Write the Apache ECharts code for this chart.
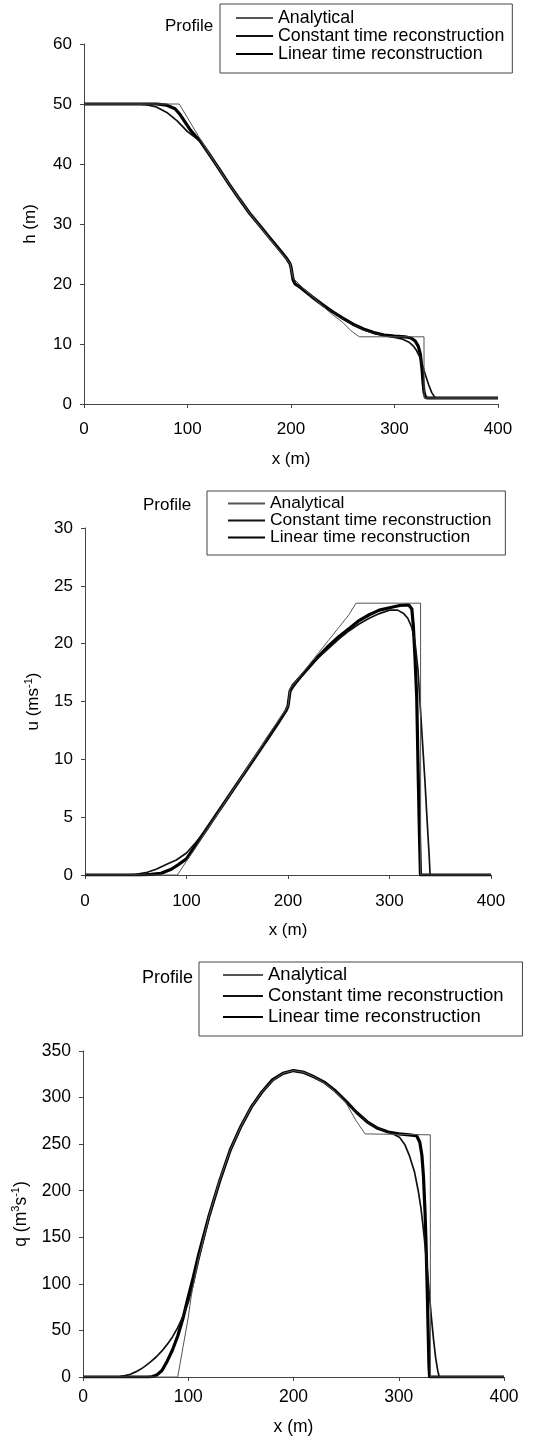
<!DOCTYPE html>
<html>
<head>
<meta charset="utf-8">
<script src="https://cdn.jsdelivr.net/npm/echarts@6/dist/echarts.min.js"></script>
<style>html,body{margin:0;padding:0;background:#fff}#c{width:549px;height:1447px}</style>
</head>
<body>
<div id="c"></div>
<script>
// ---- data (x in m) ----
const seriesNames = ['Analytical', 'Constant time reconstruction', 'Linear time reconstruction'];
const xRange = [0, 400, 100];
const hRange = [0, 60, 10];
const uRange = [0, 30, 5];
const qRange = [0, 350, 50];

const hAnalytical = [[0,50],[92,50],[100,47.7],[110,44.8],[120,42.0],[130,39.3],[140,36.7],[150,34.2],[160,31.8],[170,29.6],[180,27.4],[190,25.3],[199,23.4],[202,21.0],[210,19.6],[220,18.0],[230,16.4],[240,14.9],[250,13.6],[258,12.2],[266,11.2],[328.5,11.2],[328.6,1],[400,1]];
const hConstant = [[0,50],[50,50],[60,49.9],[70,49.5],[80,48.6],[90,47.2],[100,45.4],[106,44.6],[112,43.8],[120,41.8],[130,39.2],[140,36.7],[150,34.2],[160,31.8],[170,29.7],[180,27.6],[190,25.5],[196,24.2],[199,23.3],[201,21.6],[204,20.2],[210,19.4],[220,18.0],[230,16.7],[240,15.4],[250,14.2],[260,13.2],[270,12.4],[280,11.8],[290,11.4],[300,11.1],[308,10.8],[314,10.3],[318,9.7],[321,9.0],[324,8.0],[327,6.5],[330,4.8],[333,3.2],[336,1.9],[339,1.1],[342,1.0],[400,1.0]];
const hLinear = [[0,50],[70,50],[80,49.8],[88,49.2],[93,48.2],[98,46.9],[103,45.6],[108,44.6],[112,43.9],[120,41.9],[130,39.3],[140,36.7],[150,34.2],[160,31.8],[170,29.7],[180,27.6],[190,25.5],[196,24.2],[199,23.4],[200,22.8],[202,20.7],[204,20.0],[210,19.3],[220,17.9],[230,16.6],[240,15.4],[250,14.3],[260,13.3],[270,12.5],[280,11.9],[290,11.5],[300,11.3],[310,11.2],[316,11.0],[320,10.5],[323,9.6],[325,8.3],[326.5,6.0],[327.5,3.8],[328.5,2.0],[330,1.1],[332,1.0],[400,1.0]];

const uAnalytical = [[0,0],[91,0],[100,1.2],[110,2.5],[120,3.9],[130,5.2],[140,6.6],[150,7.9],[160,9.3],[170,10.6],[180,12.0],[190,13.3],[200,14.6],[202,16.1],[210,17.0],[220,18.1],[230,19.2],[240,20.3],[250,21.4],[260,22.5],[267,23.5],[330.6,23.5],[330.7,0],[400,0]];
const uConstant = [[0,0],[40,0],[50,0.05],[60,0.2],[70,0.5],[80,0.9],[90,1.3],[100,1.9],[110,2.9],[120,4.0],[130,5.3],[140,6.6],[150,7.9],[160,9.2],[170,10.5],[180,11.8],[190,13.1],[198,14.2],[200,14.7],[202,15.8],[205,16.2],[210,16.8],[220,17.9],[230,18.8],[240,19.6],[250,20.4],[260,21.1],[270,21.7],[280,22.2],[290,22.6],[300,22.9],[308,22.9],[314,22.6],[318,22.2],[322,21.4],[325,20.2],[328,17.8],[331,13.6],[333,10.8],[335,8.0],[337,4.8],[339,1.8],[340,0],[400,0]];
const uLinear = [[0,0],[55,0],[65,0.05],[75,0.15],[85,0.5],[92,0.9],[100,1.4],[110,2.7],[120,4.0],[130,5.3],[140,6.6],[150,7.9],[160,9.2],[170,10.5],[180,11.8],[190,13.1],[198,14.2],[200,14.6],[202,15.9],[205,16.4],[210,16.9],[220,17.9],[230,18.9],[240,19.8],[250,20.6],[260,21.3],[270,22.0],[280,22.5],[290,22.9],[300,23.1],[310,23.3],[319,23.35],[322,23.0],[323.5,21.5],[325,19.0],[326.8,15.4],[328.4,8.2],[329.5,3.5],[330.5,0],[400,0]];

const qAnalytical = [[0,0],[90,0],[95,32],[100,64],[103,88],[110,128],[120,174],[130,212],[140,244],[150,269],[160,290],[170,306],[180,318],[190,326],[200,329],[210,327],[220,322],[230,315],[240,306],[250,294],[259,276],[268,261],[330,260],[330.1,0],[400,0]];
const qConstant = [[0,0],[30,0],[35,0.5],[40,1.5],[45,3],[50,5.5],[55,8.5],[60,12.5],[65,17],[70,22],[75,28],[80,35],[85,43],[90,53],[95,65],[100,80],[105,101],[110,126],[120,172],[130,210],[140,243],[150,268],[160,290],[170,306],[180,318],[190,326],[200,329],[210,327],[220,322],[230,316],[240,307],[250,296],[260,284],[270,274],[280,267],[290,263],[296,260],[301,257],[306,249],[310,238],[315,220],[318.5,200],[321,182],[323,163],[325,141],[327,117],[329,90],[331,64],[333,41],[335,21],[337,7],[338.5,0],[400,0]];
const qLinear = [[0,0],[62,0],[66,0.5],[70,2],[75,7],[80,17],[85,29],[90,44],[95,63],[100,86],[105,108],[110,132],[120,174],[130,211],[140,244],[150,269],[160,290],[170,306],[180,319],[190,326],[200,329],[210,327],[220,322],[230,316],[240,307],[250,296],[260,284],[270,274],[280,267],[290,263],[300,261],[310,260],[317,259],[320,252],[322,238],[323.5,215],[325,176],[326,140],[327,96],[328,46],[328.7,12],[329.3,0],[400,0]];

// ---- styling / layout ----
const FONT = 'Liberation Sans, Arial, sans-serif';
const styles = [
  {color: '#555', width: 1},
  {color: '#111', width: 1.7},
  {color: '#000', width: 3.2}
];
const panels = [
  {grid: {left: 84, top: 44, width: 414, height: 360}, y: hRange, yName: 'h (m)', yGap: 44, xGap: 47, xMargin: 17, fs: 17,
   data: [hAnalytical, hConstant, hLinear],
   legend: {left: 220, top: 4, padding: [5, 8, 10, 15], lh: 17, iw: 37, fs: 17.8},
   title: {left: 165, top: 17.5, fs: 17}},
  {grid: {left: 85, top: 528, width: 406, height: 347}, y: uRange, yName: 'u (ms{sup|-1})', yGap: 40, xGap: 47, xMargin: 18, fs: 17,
   data: [uAnalytical, uConstant, uLinear],
   legend: {left: 207, top: 491, padding: [4, 14, 9, 20], lh: 16, iw: 37, fs: 17.4},
   title: {left: 143, top: 496.5, fs: 17}},
  {grid: {left: 83, top: 1051, width: 421, height: 326}, y: qRange, yName: 'q (m{sup|3}s{sup|-1})', yGap: 52, xGap: 41, xMargin: 11, fs: 17.5,
   data: [qAnalytical, qConstant, qLinear],
   legend: {left: 199, top: 962, padding: [2.5, 19, 8.5, 23], lh: 21, iw: 40, fs: 18.5},
   title: {left: 142, top: 969, fs: 18}}
];

const axisLine = {show: true, lineStyle: {color: '#444', width: 1}};
const axisTick = {show: true, inside: false, length: 4, lineStyle: {color: '#444', width: 1}};

const option = {
  animation: false,
  backgroundColor: '#fff',
  textStyle: {fontFamily: FONT},
  title: panels.map(p => ({
    text: 'Profile', left: p.title.left, top: p.title.top, padding: 0,
    textStyle: {fontFamily: FONT, fontSize: p.title.fs, fontWeight: 'normal', color: '#000'}
  })),
  legend: panels.map(p => ({
    data: seriesNames, orient: 'vertical', left: p.legend.left, top: p.legend.top,
    padding: p.legend.padding, itemGap: 0, itemWidth: p.legend.iw, itemHeight: 8,
    borderColor: '#444', borderWidth: 1, selectedMode: false,
    itemStyle: {opacity: 0},
    textStyle: {fontFamily: FONT, fontSize: p.legend.fs, color: '#000', lineHeight: p.legend.lh}
  })),
  grid: panels.map(p => Object.assign({containLabel: false}, p.grid)),
  xAxis: panels.map((p, i) => ({
    type: 'value', gridIndex: i, min: xRange[0], max: xRange[1], interval: xRange[2],
    name: 'x (m)', nameLocation: 'middle', nameGap: p.xGap,
    nameTextStyle: {fontFamily: FONT, fontSize: p.fs, color: '#000'},
    axisLine, axisTick, splitLine: {show: false},
    axisLabel: {fontFamily: FONT, fontSize: p.fs, color: '#000', margin: p.xMargin}
  })),
  yAxis: panels.map((p, i) => ({
    type: 'value', gridIndex: i, min: p.y[0], max: p.y[1], interval: p.y[2],
    name: p.yName, nameLocation: 'middle', nameGap: p.yGap, nameRotate: 90,
    nameTextStyle: {fontFamily: FONT, fontSize: p.fs, color: '#000', lineHeight: 20,
      rich: {sup: {fontFamily: FONT, fontSize: 11, color: '#000', lineHeight: 11, verticalAlign: 'top'}}},
    axisLine, axisTick, splitLine: {show: false},
    axisLabel: {fontFamily: FONT, fontSize: p.fs, color: '#000', margin: 12}
  })),
  series: []
};

// linear and constant first, analytical on top
panels.forEach((p, i) => {
  [2, 1, 0].forEach(k => {
    option.series.push({
      type: 'line', name: seriesNames[k], xAxisIndex: i, yAxisIndex: i,
      data: p.data[k], symbol: 'none', showSymbol: false, smooth: false,
      lineStyle: {color: styles[k].color, width: styles[k].width},
      itemStyle: {color: styles[k].color},
      z: 3 - k, silent: true
    });
  });
});

const chart = echarts.init(document.getElementById('c'), null, {renderer: 'canvas'});
chart.setOption(option);
</script>
</body>
</html>
